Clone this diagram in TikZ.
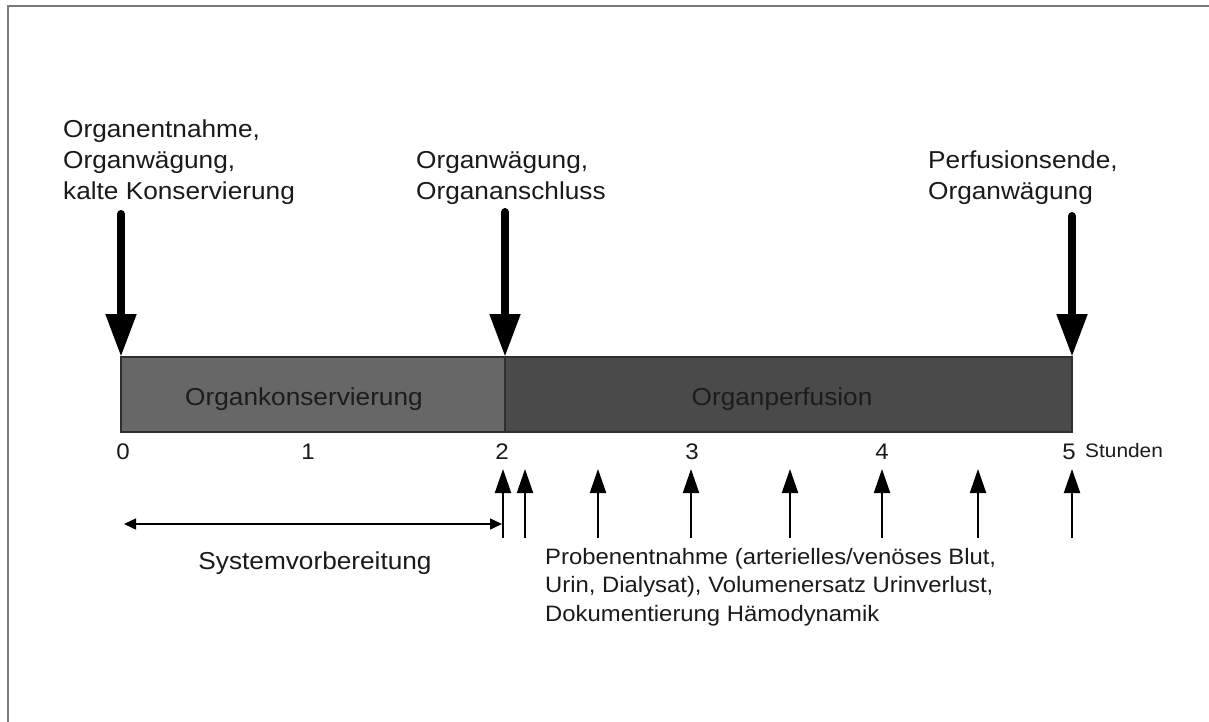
\documentclass[tikz,border=0pt]{standalone}
\usepackage{fontspec}
\setmainfont{Liberation Sans}[FakeStretch=1.07]
\usetikzlibrary{arrows.meta}
\definecolor{framegray}{HTML}{7A7A7A}
\definecolor{konsfill}{HTML}{676767}
\definecolor{perffill}{HTML}{4A4A4A}
\definecolor{baredge}{HTML}{2E2E2E}
\definecolor{bartext}{HTML}{1C1C1C}
\definecolor{txt}{HTML}{1A1A1A}
\newcommand\biglbl{\fontsize{24.5}{31}\selectfont}
\newcommand\problbl{\fontsize{22.3}{28.5}\selectfont}
\newcommand\ticklbl{\fontsize{22.5}{26}\selectfont}
\newcommand\unitlbl{\fontsize{19.5}{22}\selectfont}
\tikzset{
  lbl/.style={font=\biglbl, text=txt, align=left, anchor=base west, inner sep=0pt},
  tick/.style={font=\ticklbl, text=txt, anchor=base, inner sep=0pt},
  bigarrow/.style={line width=8pt, line cap=round, -{Triangle[length=43pt,width=29pt]}},
  smallarrow/.style={line width=2pt, -{Triangle[length=24pt,width=16pt]}},
  spanarrow/.style={line width=1.5pt, {Triangle[length=12pt,width=11pt]}-{Triangle[length=12pt,width=11pt]}},
  barpart/.style={draw=baredge, line width=1.6pt}
}
\begin{document}
\begin{tikzpicture}[x=1pt,y=-1pt]
\useasboundingbox (0,0) rectangle (1209,722);
% frame
\draw[framegray, line width=2.5pt] (8,722) -- (8,6) -- (1209,6);

% bars
\fill[konsfill] (121,357) rectangle (505,432);
\fill[perffill] (505,357) rectangle (1072,432);
\draw[barpart] (121,357) rectangle (1072,432);
\draw[barpart] (505,357) -- (505,432);
\node[font=\biglbl, text=bartext, anchor=base, inner sep=0pt] (kons) at (304,405) {Organkonservierung};
\node[font=\biglbl, text=bartext, anchor=base, inner sep=0pt] (perf) at (782,405) {Organperfusion};

% time points on bar
\coordinate (b0) at (121,357);
\coordinate (b2) at (505,357);
\coordinate (b5) at (1072,357);
\coordinate (s0) at (121,214);
\coordinate (s2) at (505,212);
\coordinate (s5) at (1072,216);
\draw[bigarrow] (s0) -- (b0);
\draw[bigarrow] (s2) -- (b2);
\draw[bigarrow] (s5) -- (b5);

% top labels (anchor at baseline of last line)
\node[lbl] (l0) at (63,200) {Organentnahme,\\Organwägung,\\kalte Konservierung};
\node[lbl] (l2) at (416,200) {Organwägung,\\Organanschluss};
\node[lbl] (l5) at (928,200) {Perfusionsende,\\Organwägung};

% tick labels
\node[tick] (t0) at (123,459) {0};
\node[tick] (t1) at (308,459) {1};
\node[tick] (t2) at (502,459) {2};
\node[tick] (t3) at (692,459) {3};
\node[tick] (t4) at (882,459) {4};
\node[tick] (t5) at (1069,459) {5};
\node[font=\unitlbl, text=txt, anchor=base west, inner sep=0pt] (unit) at (1085,457) {Stunden};

% sampling arrows
\foreach \n/\x in {a/503,b/525,c/598,d/691,e/790,f/882,g/978,h/1072}{
  \coordinate (p\n) at (\x,538);
  \coordinate (q\n) at (\x,469);
  \draw[smallarrow] (p\n) -- (q\n);
}

% system preparation span
\coordinate (sp0) at (124,524);
\coordinate (sp1) at (502,524);
\draw[spanarrow] (sp0) -- (sp1);
\node[font=\biglbl, text=txt, anchor=base, inner sep=0pt] (sys) at (315,569) {Systemvorbereitung};

% sampling label
\node[font=\problbl, text=txt, align=left, anchor=base west, inner sep=0pt] (prob) at (545,621)
  {Probenentnahme (arterielles/venöses Blut,\\Urin, Dialysat), Volumenersatz Urinverlust,\\Dokumentierung Hämodynamik};
\end{tikzpicture}
\end{document}
